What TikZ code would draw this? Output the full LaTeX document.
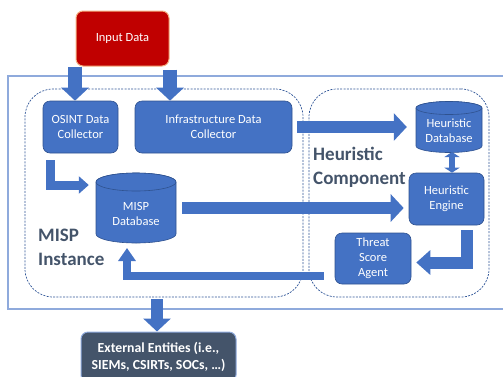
\documentclass[tikz,border=0pt]{standalone}
\usepackage{fontspec}
\setmainfont{Carlito}
\usetikzlibrary{arrows.meta,calc}
\definecolor{nodeblue}{HTML}{4472C4}
\definecolor{nodeedge}{HTML}{2F528F}
\definecolor{slate}{HTML}{44546A}
\definecolor{outerline}{HTML}{8FAADC}
\definecolor{dashblue}{HTML}{2F5597}
\definecolor{inred}{HTML}{C00000}
\definecolor{inedge}{HTML}{F4B183}
\begin{document}
\begin{tikzpicture}[x=1pt,y=-1pt,
  box/.style={draw=nodeedge, line width=0.6pt, fill=nodeblue, rounded corners=7pt,
    text=white, align=center, font=\fontsize{12.5}{15.2}\selectfont, inner sep=0pt},
  dbtext/.style={text=white, align=center, font=\fontsize{12.5}{15.2}\selectfont, inner sep=0pt},
  cyl/.style={fill=nodeblue, draw=nodeedge, line width=0.6pt},
  region/.style={draw=dashblue, line width=0.7pt, dash pattern=on 2pt off 1.3pt,
    rounded corners=28pt, inner sep=0pt},
  heading/.style={text=slate, font=\fontsize{19}{24}\selectfont\bfseries, align=left, inner sep=0pt},
  barrow/.style={draw=nodeblue, line join=miter},
  bhead/.style={-{Triangle[length=13pt,width=27pt]}},
]
\useasboundingbox (0,0) rectangle (503,376);

% outer frame and regions
\node[draw=outerline, line width=1.3pt, minimum width=512pt, minimum height=233pt, inner sep=0pt] (outer) at (264,192.5) {};
\node[region, minimum width=278pt, minimum height=208pt] (misp) at (164,193) {};
\node[region, minimum width=180pt, minimum height=208pt] (heur) at (399,193) {};

% headings
\node[heading, anchor=west] (hcomp) at (313,167) {Heuristic\\Component};
\node[heading, anchor=west] (minst) at (38,247) {MISP\\Instance};

% boxes
\node[box, fill=inred, draw=inedge, line width=1pt, minimum width=93pt, minimum height=55pt] (input) at (122.5,38.5) {Input Data};
\node[box, minimum width=75pt, minimum height=52pt] (osint) at (80.5,127) {OSINT Data\\Collector};
\node[box, minimum width=157pt, minimum height=52pt] (infra) at (213.5,127) {Infrastructure Data\\Collector};
\node[box, minimum width=75pt, minimum height=52pt] (heng) at (446.5,199) {Heuristic\\Engine};
\node[box, minimum width=76pt, minimum height=51pt] (threat) at (373,258.5) {Threat\\Score\\Agent};
\node[box, fill=slate, draw=outerline, line width=1pt, font=\fontsize{13.8}{17}\selectfont\bfseries,
  minimum width=155pt, minimum height=50pt] (ext) at (158.5,357) {External Entities (i.e.,\\SIEMs, CSIRTs, SOCs, …)};

% cylinders
\filldraw[cyl] (96,182) -- (96,234) arc[start angle=180,end angle=0,x radius=40,y radius=9]
  -- (176,182) arc[start angle=0,end angle=-180,x radius=40,y radius=9] -- cycle;
\draw[cyl] (136,182) ellipse[x radius=40,y radius=9];
\node[dbtext, minimum width=80pt] (mispdb) at (136,214) {MISP\\Database};

\filldraw[cyl] (416,108) -- (416,146) arc[start angle=180,end angle=0,x radius=33,y radius=6.5]
  -- (482,108) arc[start angle=0,end angle=-180,x radius=33,y radius=6.5] -- cycle;
\draw[cyl] (449,108) ellipse[x radius=33,y radius=6.5];
\node[dbtext, minimum width=66pt] (hdb) at (449,131) {Heuristic\\Database};

% arrows
\draw[barrow, bhead, line width=14pt] (75,0 |- input.south) -- (75,0 |- osint.north);
\draw[barrow, bhead, line width=14pt] ($(170,0 |- input.south)+(0,3)$) -- (170,0 |- infra.north);
\draw[barrow, bhead, line width=12pt] ($(infra.east)+(5,0)$) -- ($(hdb.west)+(-9,-4)$);
\draw[barrow, line width=6pt, {Triangle[length=5pt,width=15pt]}-{Triangle[length=5pt,width=15pt]}]
  ($(hdb.center)+(3,21)$) -- (452,0 |- heng.north);
\draw[barrow, bhead, line width=12pt] ($(mispdb.east)+(6,-6)$) -- ($(heng.west)+(-5,9)$);
\draw[barrow, -{Triangle[length=14pt,width=24pt]}, line width=12pt]
  ($(heng.south)+(20,5)$) |- ($(threat.east)+(5,4)$);
\draw[barrow, -{Triangle[length=13pt,width=17pt]}, line width=8.5pt]
  ($(threat.west)+(-11,17.5)$) -| ($(mispdb.center)+(-9,34)$);
\draw[barrow, -{Triangle[length=10pt,width=17pt]}, line width=9pt]
  ($(osint.south)+(-30,7)$) |- ($(mispdb.west)+(-7,-29)$);
\draw[barrow, bhead, line width=12pt] ($(misp.south)+(-7,2)$) -- (157,0 |- ext.north);
\end{tikzpicture}
\end{document}
